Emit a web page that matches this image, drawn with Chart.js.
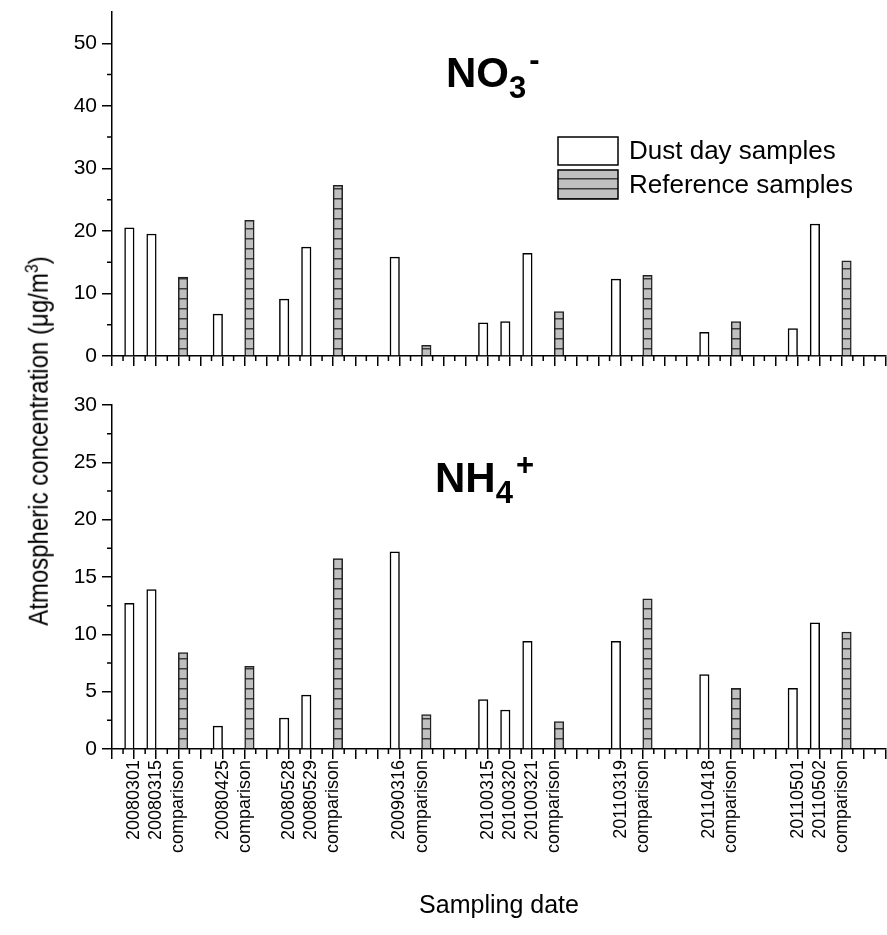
<!DOCTYPE html>
<html>
<head>
<meta charset="utf-8">
<script src="https://cdn.jsdelivr.net/npm/chart.js@4.4.1/dist/chart.umd.min.js"></script>
<style>
  body { margin: 0; background: #fff; }
  #wrap { position: relative; width: 887px; height: 935px; font-family: Arial, "Liberation Sans", sans-serif; color: #000; }
  .box { position: absolute; left: 0; width: 887px; }
  .ion { position: absolute; font-weight: bold; font-size: 42px; line-height: 42px; white-space: nowrap; }
  .ion .sb { font-size: 31px; position: relative; top: 11px; }
  .ion .sp { font-size: 31px; position: relative; top: -17px; margin-left: 3px; }
  #ytitle { position: absolute; left: 39px; top: 441px; transform: translate(-50%, -50%) rotate(-90deg) scaleY(1.15);
            white-space: nowrap; font-size: 24px; line-height: 28px; }
  #ytitle sup { font-size: 16px; vertical-align: 9px; line-height: 0; }
</style>
</head>
<body>
<div id="wrap">
  <div class="box" style="top:0;height:372px"><canvas id="topChart"></canvas></div>
  <div class="box" style="top:390px;height:545px"><canvas id="bottomChart"></canvas></div>
  <div class="ion" style="left:446px;top:52px">NO<span class="sb">3</span><span class="sp">-</span></div>
  <div class="ion" style="left:435px;top:457px">NH<span class="sb">4</span><span class="sp">+</span></div>
  <div id="ytitle">Atmospheric concentration (μg/m<sup>3</sup>)</div>
</div>
<script>
// x positions on the axis (0..35) of each sample
const dustPos = [1, 2, 5, 8, 9, 13, 17, 18, 19, 23, 27, 31, 32];
const dustLabels = ['20080301', '20080315', '20080425', '20080528', '20080529', '20090316',
                    '20100315', '20100320', '20100321', '20110319', '20110418', '20110501', '20110502'];
const refPos = [3, 6, 10, 14, 20, 24, 28, 33];
const refLabel = 'comparison';

// NO3- (ug/m3)
const no3Dust = [20.5, 19.5, 6.7, 9.1, 17.4, 15.8, 5.3, 5.5, 16.4, 12.3, 3.8, 4.4, 21.1];
const no3Ref  = [12.6, 21.7, 27.3, 1.7, 7.1, 12.9, 5.5, 15.2];
// NH4+ (ug/m3)
const nh4Dust = [12.7, 13.9, 2.0, 2.7, 4.7, 17.2, 4.3, 3.4, 9.4, 9.4, 6.5, 5.3, 11.0];
const nh4Ref  = [8.4, 7.2, 16.6, 3.0, 2.4, 13.1, 5.3, 10.2];

const seriesNames = ['Dust day samples', 'Reference samples'];
const xMax = 35;

function tickLabel(v) {
  let i = dustPos.indexOf(v);
  if (i >= 0) return dustLabels[i];
  if (refPos.indexOf(v) >= 0) return refLabel;
  return '';
}

function hatch(ctx) {
  const t = document.createElement('canvas');
  t.width = 8; t.height = 10;
  const g = t.getContext('2d');
  g.fillStyle = '#c0c0c0';
  g.fillRect(0, 0, 8, 10);
  g.fillStyle = '#3c3c3c';
  g.fillRect(0, 8, 8, 1.5);
  return ctx.createPattern(t, 'repeat');
}

const minorTicks = {
  id: 'minorTicks',
  afterDraw(chart, args, opts) {
    const { ctx, scales: { x, y } } = chart;
    ctx.save();
    ctx.strokeStyle = '#000';
    ctx.lineWidth = 1.5;
    ctx.beginPath();
    for (let v = 0.5; v < x.max; v += 1) {
      const px = x.getPixelForValue(v);
      ctx.moveTo(px, x.top);
      ctx.lineTo(px, x.top + 5);
    }
    for (let v = opts.step / 2; v < y.max; v += opts.step) {
      const py = y.getPixelForValue(v);
      ctx.moveTo(y.right, py);
      ctx.lineTo(y.right - 5, py);
    }
    ctx.stroke();
    ctx.restore();
  }
};

const boxLegend = {
  id: 'boxLegend',
  afterDraw(chart) {
    const ctx = chart.ctx;
    const ds = chart.data.datasets;
    const rows = [{ y: 137, h: 28 }, { y: 170, h: 29 }];
    ctx.save();
    ctx.font = '26px Arial, "Liberation Sans"';
    ctx.textBaseline = 'middle';
    rows.forEach((r, i) => {
      ctx.fillStyle = ds[i].backgroundColor;
      ctx.fillRect(558, r.y, 60, r.h);
      ctx.strokeStyle = '#000';
      ctx.lineWidth = 1.5;
      ctx.strokeRect(558, r.y, 60, r.h);
      ctx.fillStyle = '#000';
      ctx.fillText(ds[i].label, 629, r.y + r.h / 2 + 1);
    });
    ctx.restore();
  }
};

function makeChart(id, dust, ref, yMax, yStep, opts) {
  const canvas = document.getElementById(id);
  const ctx = canvas.getContext('2d');
  return new Chart(ctx, {
    type: 'bar',
    data: {
      datasets: [{
        label: seriesNames[0],
        data: dustPos.map((p, i) => ({ x: p, y: dust[i] })),
        backgroundColor: '#ffffff',
        borderColor: '#000000',
        borderWidth: 1.5
      }, {
        label: seriesNames[1],
        data: refPos.map((p, i) => ({ x: p, y: ref[i] })),
        backgroundColor: hatch(ctx),
        borderColor: '#222222',
        borderWidth: 1.5
      }]
    },
    options: {
      responsive: true,
      maintainAspectRatio: false,
      animation: false,
      barThickness: 9.5,
      layout: { padding: opts.padding },
      plugins: {
        legend: { display: false },
        tooltip: { enabled: false },
        minorTicks: { step: yStep }
      },
      scales: {
        x: {
          type: 'linear',
          min: 0,
          max: xMax,
          offset: false,
          grid: { offset: false, drawOnChartArea: false, color: '#000', lineWidth: 1.5, tickLength: 10 },
          border: { color: '#000', width: 1.5 },
          ticks: {
            stepSize: 1,
            autoSkip: false,
            minRotation: 90,
            maxRotation: 90,
            padding: 1,
            color: '#000',
            font: { family: 'Arial, "Liberation Sans"', size: 18 },
            callback: v => opts.labels ? tickLabel(v) : ''
          },
          title: {
            display: !!opts.labels,
            text: 'Sampling date',
            color: '#000',
            font: { family: 'Arial, "Liberation Sans"', size: 25 },
            padding: { top: 0, bottom: 14 }
          },
          afterFit: s => { s.height = opts.xHeight; s.paddingLeft = 0; s.paddingRight = 0; }
        },
        y: {
          min: 0,
          max: yMax,
          grid: { drawOnChartArea: false, color: '#000', lineWidth: 1.5, tickLength: 10 },
          border: { color: '#000', width: 1.5 },
          ticks: {
            stepSize: yStep,
            includeBounds: false,
            padding: 5,
            color: '#000',
            font: { family: 'Arial, "Liberation Sans"', size: 21 }
          },
          afterFit: s => { s.width = 112; s.paddingTop = 0; s.paddingBottom = 0; }
        }
      }
    },
    plugins: opts.legend ? [minorTicks, boxLegend] : [minorTicks]
  });
}

makeChart('topChart', no3Dust, no3Ref, 55, 10,
  { padding: { top: 12, right: 1, left: 0, bottom: 0 }, xHeight: 16, labels: false, legend: true });
makeChart('bottomChart', nh4Dust, nh4Ref, 30, 5,
  { padding: { top: 15, right: 1, left: 0, bottom: 0 }, xHeight: 186, labels: true, legend: false });
</script>
</body>
</html>
